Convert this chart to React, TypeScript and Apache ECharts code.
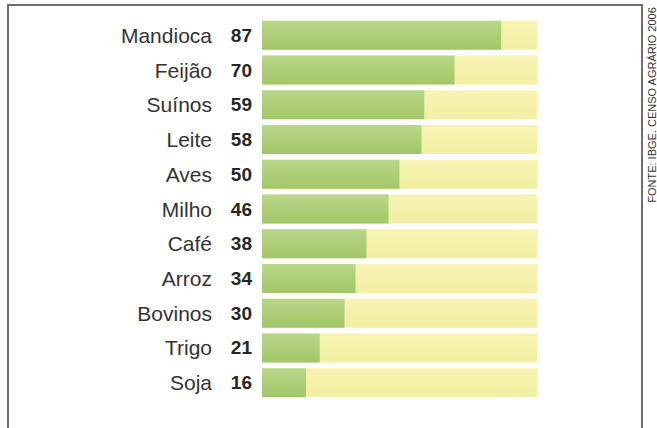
import React, { useEffect, useRef } from "react";
import * as echarts from "echarts";

const categories = ["Mandioca", "Feijão", "Suínos", "Leite", "Aves", "Milho", "Café", "Arroz", "Bovinos", "Trigo", "Soja"];
const values = [87, 70, 59, 58, 50, 46, 38, 34, 30, 21, 16];
const fullValues = [100, 100, 100, 100, 100, 100, 100, 100, 100, 100, 100];
const sourceText = "FONTE: IBGE. CENSO AGRÁRIO 2006";

export default function App() {
  const ref = useRef<HTMLDivElement>(null);
  useEffect(() => {
    if (!ref.current) return;
    const chart = echarts.init(ref.current, undefined, { renderer: "svg" });
    chart.setOption({
      animation: false,
      backgroundColor: "#ffffff",
      grid: { left: 262, right: 120, top: 18, bottom: 28, containLabel: false },
      xAxis: { type: "value", min: 0, max: 100, show: false },
      yAxis: {
        type: "category",
        data: categories,
        inverse: true,
        axisLine: { show: false },
        axisTick: { show: false },
        splitLine: { show: false },
        axisLabel: {
          margin: 10,
          formatter: (v: string, i: number) => `{n|${v}}{v|${values[i]}}`,
          rich: {
            n: { fontFamily: "Liberation Sans, Arial, sans-serif", fontSize: 21, color: "#333333" },
            v: {
              fontFamily: "Liberation Sans, Arial, sans-serif",
              fontSize: 19,
              fontWeight: "bold",
              color: "#262626",
              width: 40,
              align: "right",
            },
          },
        },
      },
      series: [
        {
          type: "bar",
          data: fullValues,
          barWidth: 29,
          barGap: "-100%",
          silent: true,
          itemStyle: {
            color: new echarts.graphic.LinearGradient(0, 0, 0, 1, [
              { offset: 0, color: "#f7f3b4" },
              { offset: 1, color: "#f2eea2" },
            ]),
          },
          z: 1,
        },
        {
          type: "bar",
          data: values,
          barWidth: 29,
          barGap: "-100%",
          itemStyle: {
            color: new echarts.graphic.LinearGradient(0, 0, 0, 1, [
              { offset: 0, color: "#b9d68a" },
              { offset: 1, color: "#a2c768" },
            ]),
          },
          z: 2,
        },
      ],
      graphic: [
        {
          type: "rect",
          shape: { x: 8, y: 5, width: 634, height: 460 },
          style: { fill: "none", stroke: "#6e6e6e", lineWidth: 2 },
          silent: true,
        },
        {
          type: "text",
          x: 652,
          y: 105,
          rotation: Math.PI / 2,
          style: {
            text: sourceText,
            fontFamily: "Liberation Sans, Arial, sans-serif",
            fontSize: 11,
            fill: "#333333",
            align: "center",
            verticalAlign: "middle",
          },
          silent: true,
        },
      ],
    });
    return () => chart.dispose();
  }, []);
  return <div ref={ref} style={{ position: "fixed", left: 0, top: 0, width: 657, height: 428 }} />;
}
